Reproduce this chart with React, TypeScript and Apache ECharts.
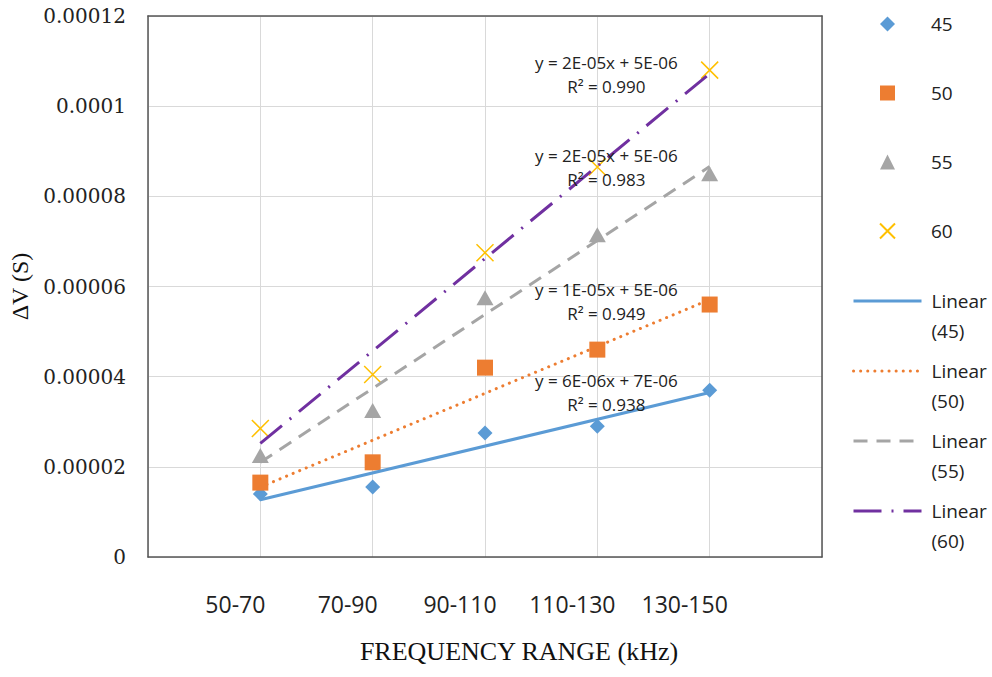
import React, { useEffect, useRef } from 'react';
import * as echarts from 'echarts';

// ---- data ----
const categories = ['50-70', '70-90', '90-110', '110-130', '130-150'];
const xPositions = [1, 2, 3, 4, 5];
const seriesNames = ['45', '50', '55', '60'];
const values45 = [0.000014, 0.0000155, 0.0000275, 0.000029, 0.000037];
const values50 = [0.0000165, 0.000021, 0.000042, 0.000046, 0.000056];
const values55 = [0.0000225, 0.0000325, 0.0000575, 0.0000715, 0.000085];
const values60 = [0.0000285, 0.0000405, 0.0000675, 0.0000865, 0.000108];
const equations = ['y = 6E-06x + 7E-06', 'y = 1E-05x + 5E-06', 'y = 2E-05x + 5E-06', 'y = 2E-05x + 5E-06'];
const r2Labels = ['R² = 0.938', 'R² = 0.949', 'R² = 0.983', 'R² = 0.990'];
const yTicks = [0, 0.00002, 0.00004, 0.00006, 0.00008, 0.0001, 0.00012];

// annotation anchors (data coordinates)
const annotationAnchors = [
  [4.08, 0.00003656],
  [4.08, 0.00005676],
  [4.08, 0.0000865],
  [4.08, 0.0001071],
];

const colors = ['#5B9BD5', '#ED7D31', '#A5A5A5', '#FFC000'];
const lineColors = ['#5B9BD5', '#ED7D31', '#A5A5A5', '#7030A0'];

function fitLine(ys: number[]) {
  const n = ys.length;
  const mx = xPositions.reduce((a, b) => a + b, 0) / n;
  const my = ys.reduce((a, b) => a + b, 0) / n;
  let sxy = 0;
  let sxx = 0;
  for (let i = 0; i < n; i++) {
    sxy += (xPositions[i] - mx) * (ys[i] - my);
    sxx += (xPositions[i] - mx) * (xPositions[i] - mx);
  }
  const slope = sxy / sxx;
  const b = my - slope * mx;
  return [
    [xPositions[0], slope * xPositions[0] + b],
    [xPositions[n - 1], slope * xPositions[n - 1] + b],
  ];
}

export default function App() {
  const ref = useRef<HTMLDivElement>(null);
  useEffect(() => {
    if (!ref.current) return;
    const chart = echarts.init(ref.current, undefined, { renderer: 'svg' });
    const allValues = [values45, values50, values55, values60];
    const symbols = ['diamond', 'rect', 'triangle', 'path://M0,0L20,20M20,0L0,20'];
    const symbolSizes: any[] = [15, 16, [17, 15], 17];
    const lineTypes: any[] = ['solid', [0.1, 7], [14, 9], [28, 10, 2, 10]];
    const lineCaps: any[] = ['butt', 'round', 'butt', 'butt'];

    const scatterSeries = allValues.map((vals, i) => ({
      name: seriesNames[i],
      type: 'scatter',
      data: xPositions.map((x, j) => [x, vals[j]]),
      symbol: symbols[i],
      symbolSize: symbolSizes[i],
      itemStyle:
        i === 3
          ? { color: 'rgba(0,0,0,0)', borderColor: colors[i], borderWidth: 1.5, opacity: 1 }
          : { color: colors[i], opacity: 1 },
      z: 3,
    }));

    const lineSeries = allValues.map((vals, i) => ({
      name: 'Linear (' + seriesNames[i] + ')',
      type: 'line',
      data: fitLine(vals),
      symbol: 'none',
      lineStyle: { color: lineColors[i], width: 3, type: lineTypes[i], cap: lineCaps[i] },
      itemStyle: { color: lineColors[i] },
      z: 4,
      markPoint: {
        symbol: 'circle',
        symbolSize: 0.1,
        itemStyle: { color: 'rgba(0,0,0,0)' },
        silent: true,
        label: {
          show: true,
          position: 'inside',
          formatter: equations[i] + '\n' + r2Labels[i],
          fontFamily: 'Open Sans',
          fontSize: 17,
          lineHeight: 24,
          color: '#222',
          align: 'center',
        },
        data: [{ coord: annotationAnchors[i] }],
      },
    }));

    const option: any = {
      animation: false,
      backgroundColor: '#fff',
      grid: { left: 148, top: 16, right: 170, bottom: 120, containLabel: false },
      legend: [
        {
          data: seriesNames,
          orient: 'vertical',
          left: 879,
          top: 14,
          padding: 0,
          itemWidth: 15,
          itemHeight: 15,
          itemGap: 49,
          selectedMode: false,
          textStyle: {
            fontFamily: 'Open Sans',
            fontSize: 19,
            lineHeight: 20,
            color: '#222',
            padding: [0, 0, 0, 31],
          },
        },
        {
          data: seriesNames.map((s) => 'Linear (' + s + ')'),
          orient: 'vertical',
          left: 852,
          top: 256,
          padding: 0,
          itemWidth: 68,
          itemHeight: 14,
          itemGap: -20,
          selectedMode: false,
          itemStyle: { opacity: 0 },
          lineStyle: { width: 3 },
          formatter: (name: string) => '\u00a0\n' + name.replace(' ', '\n'),
          textStyle: {
            fontFamily: 'Open Sans',
            fontSize: 19,
            lineHeight: 30,
            color: '#222',
            padding: [0, 0, 0, 5],
          },
        },
      ],
      xAxis: [
        {
          type: 'value',
          min: 0,
          max: 6,
          interval: 1,
          name: 'FREQUENCY RANGE (kHz)',
          nameLocation: 'middle',
          nameGap: 81,
          nameTextStyle: {
            fontFamily: 'Liberation Serif',
            fontSize: 26,
            color: '#111',
            padding: [0, 0, 0, 68],
          },
          axisLine: { show: true, lineStyle: { color: '#555', width: 1.5 } },
          axisTick: { show: false },
          splitLine: { show: true, lineStyle: { color: '#D9D9D9', width: 1 } },
          axisLabel: {
            margin: 35,
            fontFamily: 'Open Sans',
            fontSize: 23,
            color: '#222',
            padding: [0, 50, 0, 0],
            formatter: (v: number) => {
              const idx = xPositions.indexOf(v);
              return idx >= 0 ? categories[idx] : '';
            },
          },
        },
        {
          type: 'value',
          position: 'top',
          min: 0,
          max: 6,
          interval: 1,
          z: 5,
          axisLine: { show: true, onZero: false, lineStyle: { color: '#555', width: 1.5 } },
          axisTick: { show: false },
          axisLabel: { show: false },
          splitLine: { show: false },
        },
      ],
      yAxis: [
        {
          type: 'value',
          min: 0,
          max: 0.00012,
          interval: 0.00002,
          name: 'ΔV (S)',
          nameLocation: 'middle',
          nameGap: 96,
          nameTextStyle: {
            fontFamily: 'Liberation Serif',
            fontSize: 24,
            color: '#111',
          },
          axisLine: { show: true, lineStyle: { color: '#555', width: 1.5 } },
          axisTick: { show: false },
          splitLine: { show: true, lineStyle: { color: '#D9D9D9', width: 1 } },
          axisLabel: {
            margin: 22,
            fontFamily: 'DejaVu Serif',
            fontSize: 20,
            color: '#222',
            formatter: (v: number) => {
              let best = yTicks[0];
              for (const t of yTicks) if (Math.abs(t - v) < Math.abs(best - v)) best = t;
              return String(best);
            },
          },
        },
        {
          type: 'value',
          position: 'right',
          min: 0,
          max: 0.00012,
          interval: 0.00002,
          z: 5,
          axisLine: { show: true, onZero: false, lineStyle: { color: '#555', width: 1.5 } },
          axisTick: { show: false },
          axisLabel: { show: false },
          splitLine: { show: false },
        },
      ],
      series: [...scatterSeries, ...lineSeries],
    };
    chart.setOption(option);
    return () => chart.dispose();
  }, []);
  return (
    <div
      ref={ref}
      style={{ position: 'fixed', left: 0, top: 0, width: 992, height: 677, background: '#fff' }}
    />
  );
}
